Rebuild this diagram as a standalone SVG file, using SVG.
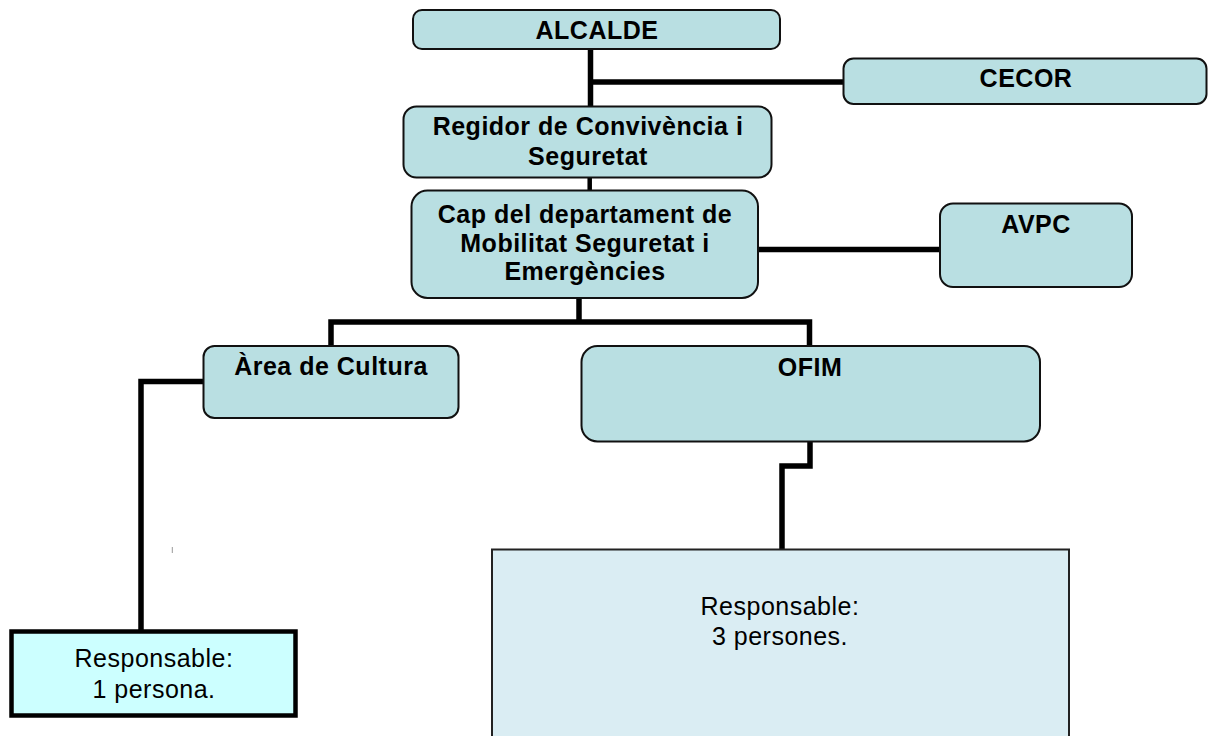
<svg xmlns="http://www.w3.org/2000/svg" width="1208" height="736" viewBox="0 0 1208 736">
<style>
.box{fill:#b9dfe2;stroke:#111;stroke-width:2}
.b{font-family:"Liberation Sans",Arial,sans-serif;font-weight:bold;font-size:25px;letter-spacing:0.5px;fill:#000;text-anchor:middle}
.n{font-family:"Liberation Sans",Arial,sans-serif;font-size:25px;letter-spacing:0.5px;fill:#000;text-anchor:middle}
.c{fill:none;stroke:#000;stroke-width:5.5;stroke-linejoin:miter;stroke-linecap:butt}
</style>
<rect width="1208" height="736" fill="#fff"/>
<g id="connectors">
<path class="c" d="M590.5 49 V106"/>
<path class="c" d="M590.5 82 H844"/>
<path class="c" d="M589.7 177 V191" style="stroke-width:4.5"/>
<path class="c" d="M758 249.5 H941"/>
<path class="c" d="M579 297 V322 M331 346 V322 H809.5 V346"/>
<path class="c" d="M204 381.5 H141 V630"/>
<path class="c" d="M810 441 V466 H782 V550"/>
<line x1="172.3" y1="547" x2="172.3" y2="553" stroke="#999" stroke-width="1"/>
</g>
<g id="alcalde">
<rect class="box" x="413" y="10" width="367" height="39" rx="9"/>
<text class="b" x="597" y="38.5">ALCALDE</text>
</g>
<g id="cecor">
<rect class="box" x="843.5" y="58.5" width="363" height="45.5" rx="10"/>
<text class="b" x="1026" y="87">CECOR</text>
</g>
<g id="regidor">
<rect class="box" x="403.5" y="106.5" width="368" height="71" rx="13"/>
<text class="b" x="588" y="135">Regidor de Convivència i</text>
<text class="b" x="588" y="165">Seguretat</text>
</g>
<g id="cap">
<rect class="box" x="411.5" y="190.5" width="346.5" height="107.5" rx="16"/>
<text class="b" x="585" y="223">Cap del departament de</text>
<text class="b" x="585" y="252">Mobilitat Seguretat i</text>
<text class="b" x="585" y="280">Emergències</text>
</g>
<g id="avpc">
<rect class="box" x="940" y="203.5" width="192" height="83.5" rx="13"/>
<text class="b" x="1036" y="233">AVPC</text>
</g>
<g id="cultura">
<rect class="box" x="203.5" y="346" width="255" height="72" rx="11"/>
<text class="b" x="331" y="375">Àrea de Cultura</text>
</g>
<g id="ofim">
<rect class="box" x="581.5" y="346" width="458.5" height="95.5" rx="16"/>
<text class="b" x="810" y="376">OFIM</text>
</g>
<g id="resp1">
<rect x="11.5" y="631.5" width="284" height="84" fill="#ccffff" stroke="#000" stroke-width="4.5"/>
<text class="n" x="154" y="667">Responsable:</text>
<text class="n" x="154" y="698">1 persona.</text>
</g>
<g id="resp3">
<rect x="492" y="549.5" width="577" height="200" fill="#daedf3" stroke="#222" stroke-width="2"/>
<text class="n" x="780" y="615">Responsable:</text>
<text class="n" x="780" y="645">3 persones.</text>
</g>
</svg>
